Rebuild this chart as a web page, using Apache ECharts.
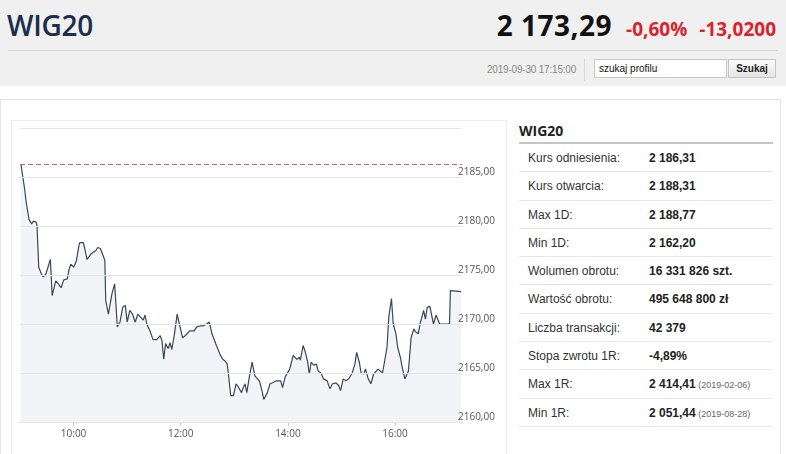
<!DOCTYPE html>
<html>
<head>
<meta charset="utf-8">
<script src="https://cdn.jsdelivr.net/npm/echarts@6/dist/echarts.min.js"></script>
<style>
  html,body{margin:0;padding:0;background:#fff;}
  body{width:786px;height:454px;overflow:hidden;position:relative;font-family:"Liberation Sans",Arial,sans-serif;}
  .abs{position:absolute;}
  #hdr{left:0;top:0;width:786px;height:86px;background:#f0f0f0;}
  #title{left:7px;top:6px;font:600 28px/38px "Open Sans",sans-serif;color:#1d2d4a;letter-spacing:-0.3px;}
  #quote{right:10px;top:6px;line-height:38px;white-space:nowrap;}
  #price{font:700 28px "Open Sans",sans-serif;color:#111;letter-spacing:0.5px;}
  .chg{font:700 19px "Open Sans",sans-serif;color:#d9232d;}
  #c1{margin-left:14px;}
  #c2{margin-left:12px;}
  #hr{left:8px;top:50px;width:770px;height:1px;background:#d6d6d6;}
  #ts{left:487px;top:64px;font-size:10px;color:#888;letter-spacing:-0.2px;}
  #sep{left:584px;top:59px;width:1px;height:22px;background:#d8d8d8;}
  #inp{left:594px;top:59px;width:127px;height:17px;background:#fff;border:1px solid #c8c8c8;font-size:10px;line-height:17px;padding-left:4px;box-sizing:content-box;color:#111;}
  #btn{left:728px;top:59px;width:46px;height:17px;border:1px solid #c4c4c4;background:linear-gradient(#fbfbfb,#e4e4e4);font-weight:bold;font-size:10px;line-height:17px;text-align:center;color:#222;}
  #outer{left:0;top:99px;width:779px;height:420px;border:1px solid #e4e4e4;}
  #panel{left:11px;top:120px;width:494px;height:400px;border:1px solid #ececec;}
  #info{left:519px;top:121px;width:254px;}
  #ititle{font:700 14px/20px "Open Sans",sans-serif;color:#222;}
  #iline{height:2px;background:#c4c4c4;margin-top:1px;}
  .row{height:28.3px;border-bottom:1px solid #e8e8e8;box-sizing:border-box;position:relative;font-size:12px;}
  .row .l{position:absolute;left:9px;top:7px;color:#333;}
  .row .v{position:absolute;left:130px;top:7px;color:#222;font-weight:bold;}
  .row .d{font-weight:normal;font-size:9px;color:#666;}
  #chart{left:0;top:0;width:786px;height:454px;}
</style>
</head>
<body>
<div id="hdr" class="abs"></div>
<div id="title" class="abs">WIG20</div>
<div id="quote" class="abs"><span id="price">2 173,29</span><span class="chg" id="c1">-0,60%</span><span class="chg" id="c2">-13,0200</span></div>
<div id="hr" class="abs"></div>
<div id="ts" class="abs">2019-09-30 17:15:00</div>
<div id="sep" class="abs"></div>
<div id="inp" class="abs">szukaj profilu</div>
<div id="btn" class="abs">Szukaj</div>
<div id="outer" class="abs"></div>
<div id="panel" class="abs"></div>
<div id="info" class="abs">
  <div id="ititle">WIG20</div>
  <div id="iline"></div>
  <div id="rows"></div>
</div>
<div id="chart" class="abs"></div>
<script>
// ---- data ----
const times = ["09:01","09:05","09:07","09:09","09:10","09:13","09:15","09:18","09:19","09:21","09:24","09:26","09:29","09:31","09:34","09:36","09:40","09:43","09:44","09:46","09:49","09:53","09:55","09:57","10:00","10:03","10:06","10:07","10:11","10:13","10:15","10:17","10:20","10:22","10:25","10:27","10:30","10:32","10:35","10:36","10:39","10:43","10:46","10:49","10:52","10:55","10:58","11:00","11:03","11:06","11:09","11:12","11:15","11:18","11:20","11:22","11:26","11:29","11:33","11:35","11:37","11:39","11:41","11:43","11:46","11:48","11:50","11:53","11:56","11:59","12:02","12:05","12:07","12:10","12:12","12:15","12:18","12:22","12:25","12:27","12:29","12:32","12:35","12:37","12:40","12:44","12:47","12:50","12:52","12:53","12:56","12:59","13:02","13:05","13:08","13:10","13:12","13:14","13:17","13:20","13:23","13:25","13:28","13:31","13:33","13:35","13:37","13:40","13:43","13:47","13:49","13:52","13:54","13:57","13:59","14:02","14:06","14:08","14:10","14:13","14:14","14:17","14:19","14:22","14:24","14:26","14:29","14:32","14:34","14:37","14:40","14:44","14:47","14:50","14:54","14:57","14:59","15:02","15:05","15:08","15:10","15:12","15:15","15:17","15:20","15:22","15:25","15:27","15:30","15:33","15:36","15:38","15:41","15:43","15:46","15:48","15:51","15:53","15:56","15:58","16:01","16:03","16:06","16:08","16:11","16:13","16:15","16:18","16:21","16:23","16:26","16:28","16:30","16:32","16:34","16:36","16:37","16:39","16:41","16:43","16:46","16:48","16:50","16:56","17:01","17:02","17:14"];
const values = [2186.3,2183.9,2182.4,2182.6,2180.7,2180.2,2180.5,2180.4,2180.1,2175.8,2175.1,2174.8,2175.1,2174.9,2176.6,2172.9,2174.4,2174.1,2174.3,2173.7,2174.5,2174.6,2175.6,2176.1,2175.8,2176.4,2178.0,2178.3,2178.3,2177.5,2176.6,2176.5,2177.2,2177.0,2177.5,2177.8,2177.7,2177.9,2176.5,2172.4,2171.0,2173.1,2174.1,2169.7,2170.2,2171.7,2171.9,2170.2,2171.4,2171.0,2170.2,2171.0,2170.7,2170.4,2170.9,2170.0,2169.2,2168.4,2168.4,2168.3,2168.8,2168.3,2166.4,2168.0,2167.5,2168.1,2167.4,2169.0,2171.0,2169.8,2168.6,2168.8,2168.6,2169.3,2169.1,2169.3,2169.7,2169.8,2169.8,2169.7,2170.0,2170.2,2169.0,2169.0,2167.8,2166.9,2166.4,2166.2,2165.9,2165.2,2162.7,2162.7,2163.9,2163.5,2163.0,2163.5,2163.9,2163.0,2164.7,2166.1,2164.7,2164.9,2164.2,2163.2,2162.3,2162.3,2163.0,2163.9,2164.0,2164.2,2164.4,2164.2,2163.5,2164.6,2164.4,2165.4,2166.8,2166.8,2166.4,2166.6,2166.3,2167.8,2167.3,2166.2,2164.9,2166.1,2165.8,2165.9,2165.2,2165.0,2164.4,2164.2,2163.4,2163.9,2164.0,2163.7,2163.2,2164.4,2164.2,2164.4,2164.7,2165.0,2165.9,2167.1,2166.1,2165.0,2164.9,2165.4,2164.4,2163.9,2164.9,2164.7,2165.4,2165.2,2165.0,2164.9,2167.6,2170.7,2172.6,2170.0,2169.0,2167.6,2166.6,2165.6,2164.4,2164.4,2165.2,2168.6,2169.5,2169.2,2169.0,2170.0,2170.0,2171.4,2170.5,2171.7,2171.8,2171.8,2170.9,2170.0,2170.9,2170.7,2170.0,2170.0,2170.0,2173.4,2173.3];
const referenceLevel = 2186.31;
const xTickLabels = ["10:00","12:00","14:00","16:00"];
const xRange = ["09:00","17:15"];
const yRange = [2160, 2190];
const yStep = 5;

const infoLabels = ["Kurs odniesienia:","Kurs otwarcia:","Max 1D:","Min 1D:","Wolumen obrotu:","Wartość obrotu:","Liczba transakcji:","Stopa zwrotu 1R:","Max 1R:","Min 1R:"];
const infoValues = ["2 186,31","2 188,31","2 188,77","2 162,20","16 331 826 szt.","495 648 800 zł","42 379","-4,89%","2 414,41","2 051,44"];
const infoDates = ["","","","","","","","","(2019-02-06)","(2019-08-28)"];

// ---- info table ----
const rowsEl = document.getElementById('rows');
infoLabels.forEach((l,i)=>{
  const r = document.createElement('div'); r.className='row';
  const a = document.createElement('span'); a.className='l'; a.textContent=l;
  const b = document.createElement('span'); b.className='v'; b.textContent=infoValues[i];
  if(infoDates[i]){ const d=document.createElement('span'); d.className='d'; d.textContent=' '+infoDates[i]; b.appendChild(d); }
  r.appendChild(a); r.appendChild(b); rowsEl.appendChild(r);
});

// ---- chart ----
const toMin = s => { const p=s.split(':'); return (+p[0])*60 + (+p[1]); };
const pad = n => (n<10?'0':'')+n;
const fmtTime = v => pad(Math.floor(v/60))+':'+pad(Math.round(v%60));
const seriesData = times.map((t,i)=>[toMin(t), values[i]]);
const tickVals = xTickLabels.map(toMin);

const chart = echarts.init(document.getElementById('chart'), null, {renderer:'canvas'});
chart.setOption({
  animation:false,
  backgroundColor:'transparent',
  grid:{left:20, top:128, width:442, height:294, containLabel:false},
  xAxis:{
    type:'value', min:toMin(xRange[0]), max:toMin(xRange[1]),
    axisLine:{show:true, lineStyle:{color:'#d9dde2', width:1.5}},
    axisTick:{show:true, customValues:tickVals, length:4, lineStyle:{color:'#c8ccd2'}},
    axisLabel:{customValues:tickVals, formatter:fmtTime, color:'#555', fontSize:10, fontFamily:'"Open Sans", sans-serif', margin:7},
    splitLine:{show:false}
  },
  yAxis:{
    type:'value', position:'right', min:yRange[0], max:yRange[1], interval:yStep, z:10,
    axisLine:{show:false}, axisTick:{show:false},
    splitLine:{lineStyle:{color:'#e4e5e7', width:1}},
    axisLabel:{showMaxLabel:false, inside:false, margin:-4, verticalAlign:'bottom', color:'#555', fontSize:10, fontFamily:'"Open Sans", sans-serif', formatter:v=>v.toFixed(2).replace('.',',')}
  },
  series:[{
    type:'line', data:seriesData, symbol:'none', smooth:false, z:2,
    lineStyle:{color:'#3b4657', width:1.2},
    areaStyle:{color:'#f2f4f7', opacity:1, origin:'start'},
    markLine:{
      silent:true, symbol:['none','none'], label:{show:false},
      lineStyle:{color:'#e2605c', type:[5,3], width:1},
      data:[{yAxis:referenceLevel}]
    }
  }]
});
</script>
</body>
</html>
